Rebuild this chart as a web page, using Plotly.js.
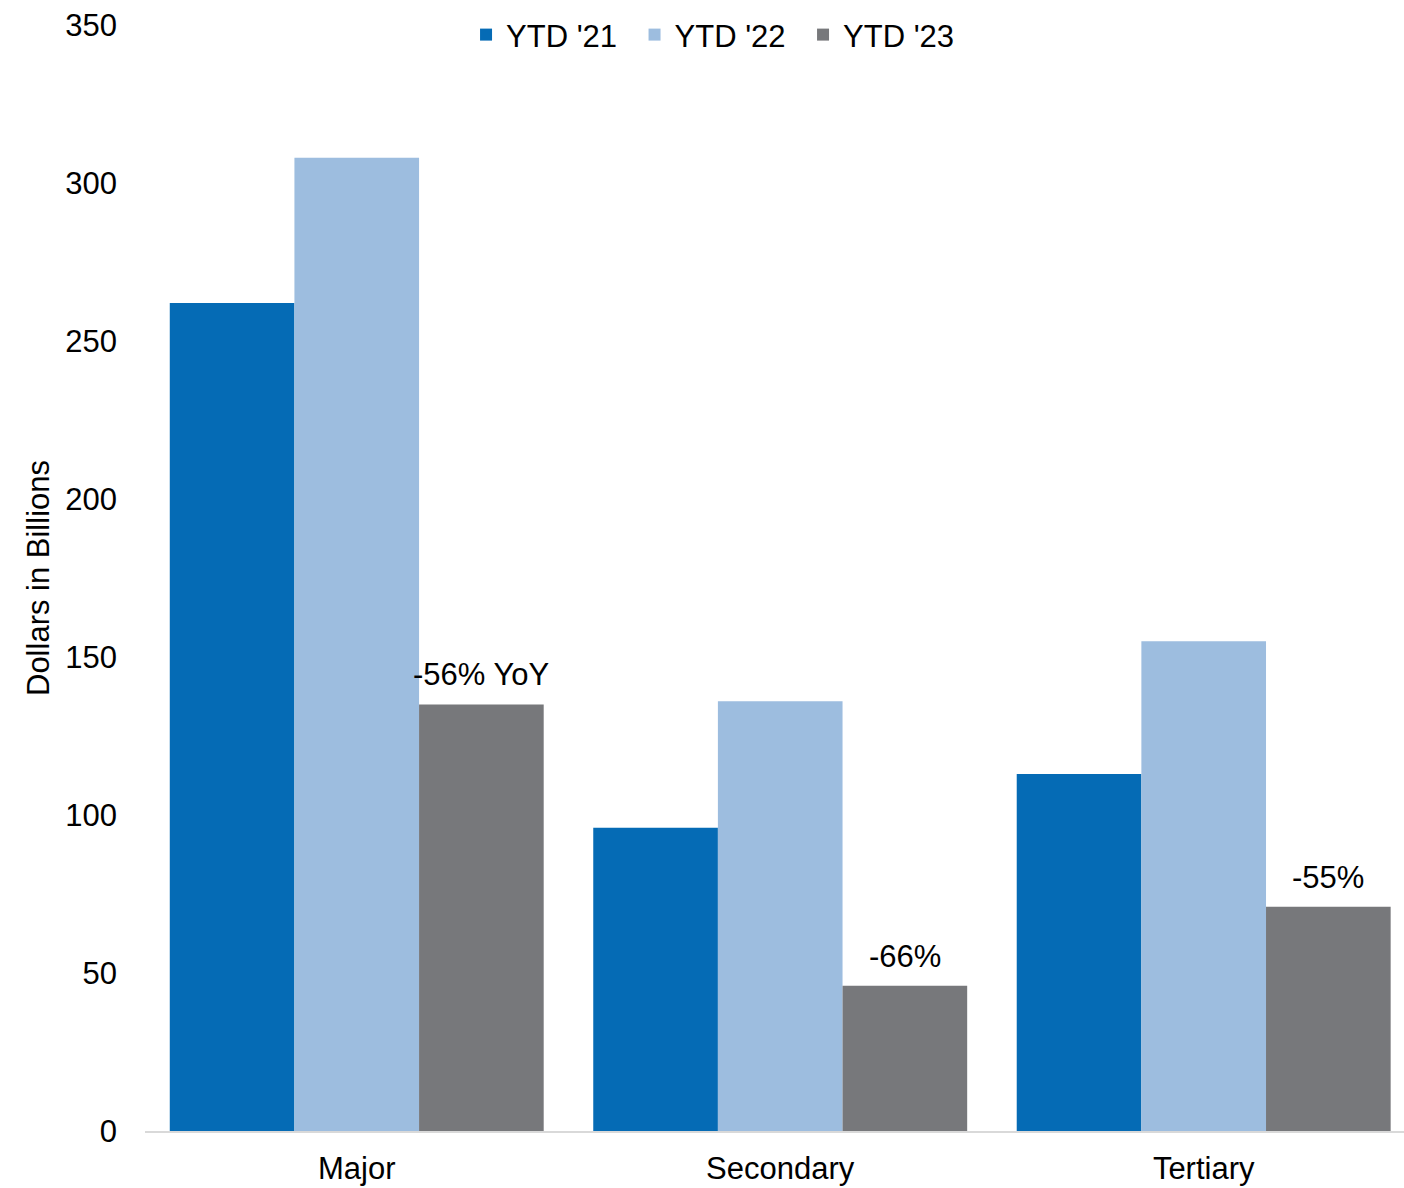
<!DOCTYPE html>
<html>
<head>
<meta charset="utf-8">
<script src="https://cdn.plot.ly/plotly-3.0.1.min.js"></script>
<style>html,body{margin:0;padding:0;background:#fff;}#chart{width:1404px;height:1188px;}</style>
</head>
<body>
<div id="chart"></div>
<script>
const categories = ['Major', 'Secondary', 'Tertiary'];
const seriesNames = ["YTD '21", "YTD '22", "YTD '23"];
const ytd21 = [262, 96, 113];
const ytd22 = [308, 136, 155];
const ytd23 = [135, 46, 71];
const ytd23Labels = ['-56% YoY', '-66%', '-55%'];
const yTicks = [0, 50, 100, 150, 200, 250, 300, 350];

const FONT = 'Liberation Sans, Arial, sans-serif';
const colors = ['#056BB5', '#9DBDDF', '#77787B'];
const BARGAP = 0.117;
const barOffset = (1 - BARGAP) / 3; // centre offset of third bar in category units

const traces = [
  {type: 'bar', name: seriesNames[0], x: categories, y: ytd21, marker: {color: colors[0]}},
  {type: 'bar', name: seriesNames[1], x: categories, y: ytd22, marker: {color: colors[1]}},
  {type: 'bar', name: seriesNames[2], x: categories, y: ytd23, marker: {color: colors[2]}}
];

const annotations = ytd23.map((v, i) => ({
  x: i + barOffset, y: v, xref: 'x', yref: 'y', text: ytd23Labels[i],
  showarrow: false, xanchor: 'center', yanchor: 'bottom', yshift: 10,
  font: {family: FONT, size: 31, color: '#000'}
}));

const layout = {
  width: 1404, height: 1188,
  margin: {l: 145, r: 0, t: 25, b: 57},
  paper_bgcolor: '#fff', plot_bgcolor: '#fff',
  font: {family: FONT, size: 31, color: '#000'},
  barmode: 'group', bargap: BARGAP, bargroupgap: 0,
  showlegend: true,
  legend: {orientation: 'h', x: 0.255, xanchor: 'left', y: 0.991, yanchor: 'middle',
           font: {family: FONT, size: 31, color: '#000'}, itemwidth: 30, traceorder: 'normal',
           entrywidth: 123.5, entrywidthmode: 'pixels'},
  annotations: annotations,
  xaxis: {
    type: 'category', range: [-0.5, 2.473], showgrid: false, zeroline: false,
    showline: true, linecolor: '#D9D9D9', linewidth: 2, ticks: '', ticklabelstandoff: 9,
    tickfont: {family: FONT, size: 31, color: '#000'}, automargin: false
  },
  yaxis: {
    range: [0, 350], tickvals: yTicks, showgrid: false, zeroline: false, showline: false,
    ticks: '', ticklabelstandoff: 27, tickfont: {family: FONT, size: 31, color: '#000'},
    title: {text: 'Dollars in Billions', font: {family: FONT, size: 31, color: '#000'}, standoff: 6},
    automargin: false
  }
};

Plotly.newPlot('chart', traces, layout, {displayModeBar: false, staticPlot: true});
</script>
</body>
</html>
